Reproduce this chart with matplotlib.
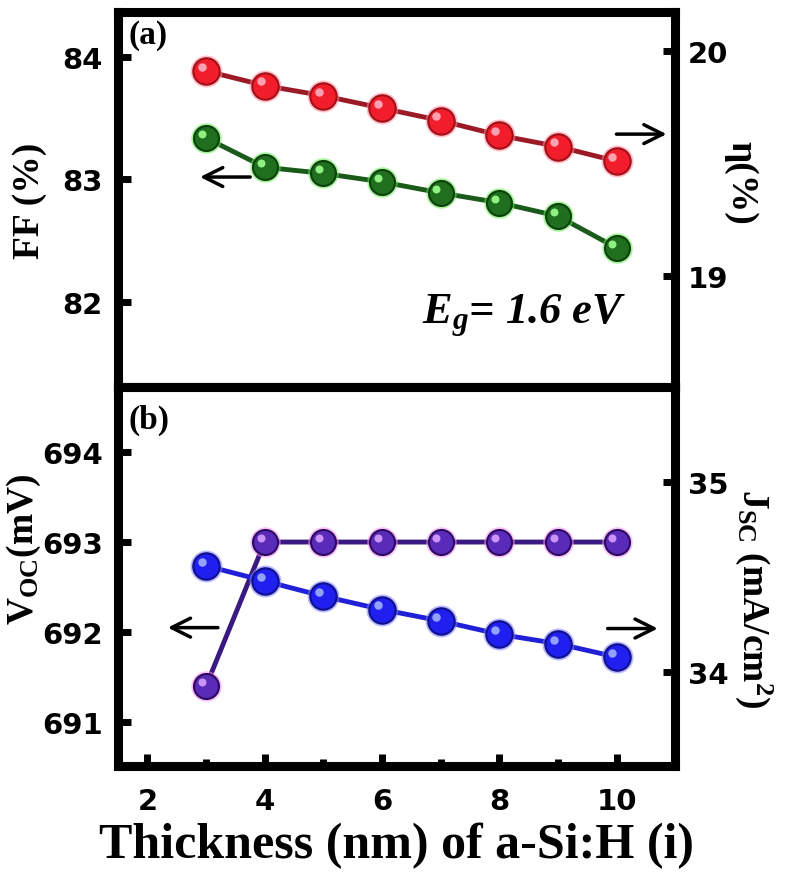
import matplotlib
matplotlib.use('Agg')
import matplotlib.pyplot as plt
from matplotlib.transforms import offset_copy

# data
thickness = [3, 4, 5, 6, 7, 8, 9, 10]
ff = [83.34, 83.10, 83.05, 82.98, 82.89, 82.81, 82.70, 82.44]
eta = [19.91, 19.845, 19.80, 19.745, 19.69, 19.625, 19.575, 19.51]
voc = [691.4, 693.0, 693.0, 693.0, 693.0, 693.0, 693.0, 693.0]
jsc = [34.56, 34.48, 34.40, 34.33, 34.27, 34.20, 34.15, 34.08]

xticks = [2, 4, 6, 8, 10]
ff_ticks = [82, 83, 84]
eta_ticks = [19, 20]
voc_ticks = [691, 692, 693, 694]
jsc_ticks = [34, 35]

tick_font = 'DejaVu Sans'
label_font = 'Liberation Serif'
plt.rcParams['mathtext.fontset'] = 'custom'
plt.rcParams['mathtext.it'] = 'Liberation Serif:italic:bold'
plt.rcParams['mathtext.rm'] = 'Liberation Serif:bold'


def balls(ax, x, y, body, edge, glow, shine, line, ms=19):
    ax.plot(x, y, '-', color=line, lw=3.5, zorder=2)
    ax.plot(x, y, 'o', ms=ms + 4, color=glow, alpha=0.55, mec='none', zorder=3)
    ax.plot(x, y, 'o', ms=ms, mfc=body, mec=edge, mew=1.5, zorder=4)
    tr = offset_copy(ax.transData, fig=ax.figure, x=-3, y=3, units='points')
    ax.plot(x, y, 'o', ms=ms * 0.32, color=shine, mec='none', alpha=0.9,
            transform=tr, zorder=5)


def style(ax, ticks, pad):
    ax.set_yticks(ticks)
    ax.tick_params(axis='y', direction='in', length=9, width=5, pad=pad,
                   labelsize=21)
    for lab in ax.get_yticklabels():
        lab.set_fontfamily(tick_font)
        lab.set_fontweight('bold')
    for s in ax.spines.values():
        s.set_linewidth(6.5)


fig = plt.figure(figsize=(7.87, 8.78), dpi=100)
L, R = 0.150, 0.858
ax1 = fig.add_axes([L, 0.558, R - L, 0.985 - 0.558])
ax2 = fig.add_axes([L, 0.126, R - L, 0.558 - 0.126], sharex=ax1)
ax1r = ax1.twinx()
ax2r = ax2.twinx()

# (a) FF and efficiency
balls(ax1, thickness, ff, '#1f6f1f', '#0d400d', '#66ee55', '#9dff8d', '#1a5a1a', ms=18)
balls(ax1r, thickness, eta, '#f21d2a', '#a01018', '#ff8fa0', '#ffb0c0', '#9c1a26', ms=19)
ax1.set_ylim(81.30, 84.37)
ax1r.set_ylim(18.51, 20.17)
style(ax1, ff_ticks, 11)
style(ax1r, eta_ticks, 9)
ax1.tick_params(axis='x', bottom=False, labelbottom=False)

# (b) Voc and Jsc
balls(ax2, thickness, voc, '#5a2ab8', '#2a0a60', '#ff90f0', '#d9a0ff', '#3a1a80', ms=18)
balls(ax2r, thickness, jsc, '#1f1ff0', '#10108a', '#8080ff', '#a0b0ff', '#2020d8', ms=19)
ax2.set_ylim(690.51, 694.72)
ax2r.set_ylim(33.505, 35.5)
style(ax2, voc_ticks, 11)
style(ax2r, jsc_ticks, 9)

ax2.set_xlim(1.5, 11)
ax2.set_xticks(xticks)
ax2.set_xticks(thickness[::2], minor=True)
ax2.tick_params(axis='x', which='major', direction='in', length=9, width=5,
                pad=15, labelsize=21)
ax2.tick_params(axis='x', which='minor', direction='in', length=5, width=5)
for lab in ax2.get_xticklabels():
    lab.set_fontfamily(tick_font)
    lab.set_fontweight('bold')

lab_kw = dict(fontfamily=label_font, fontweight='bold', fontsize=27)
ax1.set_ylabel('FF (%)', **lab_kw)
ax1.yaxis.set_label_coords(-0.128, 0.50)
ax1r.set_ylabel('η(%)', rotation=-90, va='bottom', **lab_kw)
ax1r.yaxis.set_label_coords(1.086, 0.547)
ax2.set_ylabel(r'V$_{\mathregular{OC}}$(mV)', **lab_kw)
ax2.yaxis.set_label_coords(-0.135, 0.575)
ax2r.set_ylabel(r'J$_{\mathregular{SC}}$ (mA/cm$^{\mathregular{2}}$)', rotation=-90,
                va='bottom', **lab_kw)
ax2r.yaxis.set_label_coords(1.104, 0.446)
ax2.set_xlabel('Thickness (nm) of a-Si:H (i)', fontfamily=label_font,
               fontweight='bold', fontsize=36, labelpad=5)

ax1.text(0.018, 0.982, '(a)', transform=ax1.transAxes, va='top', ha='left',
         fontfamily=label_font, fontweight='bold', fontsize=24)
ax2.text(0.018, 0.955, '(b)', transform=ax2.transAxes, va='top', ha='left',
         fontfamily=label_font, fontweight='bold', fontsize=24)
ax1.text(0.545, 0.17, r'$E_g$= 1.6 eV', transform=ax1.transAxes,
         fontfamily=label_font, fontweight='bold', style='italic', fontsize=32)

arrow = dict(arrowstyle='->', color='black', lw=2.5, mutation_scale=34)
ax1.annotate('', xy=(2.85, 83.02), xytext=(3.8, 83.02), arrowprops=arrow)
ax1r.annotate('', xy=(10.9, 19.63), xytext=(9.95, 19.63), arrowprops=arrow)
ax2.annotate('', xy=(2.3, 692.05), xytext=(3.25, 692.05), arrowprops=arrow)
ax2r.annotate('', xy=(10.75, 34.23), xytext=(9.8, 34.23), arrowprops=arrow)

fig.savefig('out.png', dpi=100)
